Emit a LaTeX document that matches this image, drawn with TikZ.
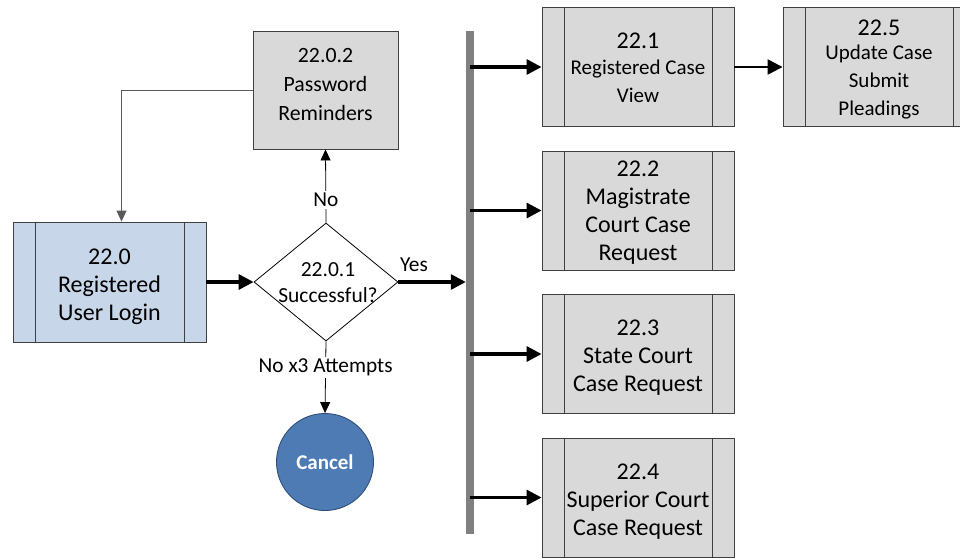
\documentclass[tikz,border=0pt]{standalone}
\usepackage{fontspec}
\setmainfont{Carlito}
\usetikzlibrary{shapes.geometric,arrows.meta}

\definecolor{boxline}{HTML}{404040}
\definecolor{procgray}{HTML}{D9D9D9}
\definecolor{loginblue}{HTML}{C8D6E9}
\definecolor{cancelblue}{HTML}{4F7BB5}
\definecolor{cancelline}{HTML}{2F4F7A}
\definecolor{bargray}{HTML}{808080}

\newcommand{\bigtxt}{\fontsize{24}{28}\selectfont}
\newcommand{\smalltxt}{\fontsize{21}{26}\selectfont}

\tikzset{
  procbox/.style={draw=boxline, line width=0.9pt, fill=procgray,
    minimum width=192pt, minimum height=119pt, inner sep=0pt,
    path picture={
      \draw[boxline, line width=0.9pt]
        ([xshift=22pt]path picture bounding box.south west) --
        ([xshift=22pt]path picture bounding box.north west)
        ([xshift=-22pt]path picture bounding box.south east) --
        ([xshift=-22pt]path picture bounding box.north east);
    }},
  proctext/.style={align=center, inner sep=0pt, font=\bigtxt},
  plainbox/.style={draw=boxline, line width=0.9pt, fill=procgray,
    minimum width=145pt, minimum height=118pt, inner sep=0pt},
  decision/.style={draw=black, line width=0.8pt, shape=diamond, fill=white,
    minimum width=144pt, minimum height=118pt, inner sep=0pt},
  endcircle/.style={draw=cancelline, line width=0.9pt, fill=cancelblue,
    shape=circle, minimum size=97pt, inner sep=0pt,
    text=white, font=\fontsize{21}{25}\selectfont\bfseries},
  railbar/.style={fill=bargray, draw=none, minimum width=8pt,
    minimum height=503pt, inner sep=0pt},
  flowthick/.style={line width=3.2pt, -{Triangle[length=15pt,width=15pt]}},
  flowthin/.style={line width=0.8pt, draw=black, -{Triangle[length=11pt,width=10pt]}},
  flowgray/.style={line width=0.9pt, draw=black!65, -{Triangle[length=11pt,width=10pt]}},
  lbl/.style={font=\fontsize{21.3}{25}\selectfont, inner sep=2pt},
}

% a process box (#2 = name, #3 = centre, #4 = downward text offset, #5 = text)
\newcommand{\procnode}[5][]{%
  \node[procbox,#1] (#2) at (#3) {};
  \node[proctext] (#2-text) at ([yshift=-#4pt]#2.center) {#5};
}

\begin{document}
\begin{tikzpicture}[x=1pt, y=-1pt]
\useasboundingbox (0,0) rectangle (960,558);
\clip (0,0) rectangle (960,558);

% left column: login, reminders, decision, cancel
\procnode[fill=loginblue, minimum width=193pt, minimum height=120pt]{login}{109.5,282}{5}
  {\fontsize{24}{26}\selectfont 22.0\\\fontsize{24}{26}\selectfont Registered\\\fontsize{24}{26}\selectfont User Login};
\node[plainbox] (remind) at (325.5,90) {};
\node[font=\fontsize{21.8}{29}\selectfont, align=center, inner sep=0pt] (remindtext)
  at (325.5,84) {22.0.2\\Password\\Reminders};
\node[decision] (dec) at (326,282) {};
\node[font=\fontsize{21.5}{26}\selectfont, align=center, inner sep=0pt] (dectext) at (328,283)
  {22.0.1\\Successful?};
\node[endcircle] (cancel) at (325,462) {Cancel};

% distribution bar
\node[railbar] (bar) at (470,282.5) {};

% right column of processes
\procnode{p1}{638,67}{1}
  {22.1\\[-2pt]\smalltxt Registered Case\\\smalltxt View};
\procnode{p5}{879,67}{15}
  {\smalltxt Update Case\\\smalltxt Submit\\\smalltxt Pleadings};
\node[font=\bigtxt, inner sep=0pt] (p5-num) at (879,28) {22.5};
\procnode{p2}{638,210.5}{2}
  {22.2\\Magistrate\\Court Case\\Request};
\procnode{p3}{638,354}{4}
  {22.3\\State Court\\Case Request};
\procnode{p4}{638,497.5}{4}
  {22.4\\Superior Court\\Case Request};

% connectors
\coordinate (loginin) at ([xshift=12pt]login.north);
\draw[flowgray] (remind.west) -| (loginin);
\draw[flowthick] (login.east) -- (dec.west);
\draw[flowthin] (dec.north) -- node[lbl, fill=white, pos=0.31] (nolbl) {No} (remind.south);
\draw[flowthin] (dec.south) -- node[lbl, fill=white, pos=0.36] (attlbl) {No x3 Attempts} (cancel.north);
\draw[flowthick] (dec.east) -- (dec.east -| bar.west);
\node[lbl] (yeslbl) at (414,265) {Yes};

\draw[flowthick] (bar.center |- p1.west) -- (p1.west);
\draw[flowthick] (bar.center |- p2.west) -- (p2.west);
\draw[flowthick] (bar.center |- p3.west) -- (p3.west);
\draw[flowthick] (bar.center |- p4.west) -- (p4.west);
\draw[flowthick, line width=2.4pt] (p1.east) -- (p5.west);
\end{tikzpicture}
\end{document}
